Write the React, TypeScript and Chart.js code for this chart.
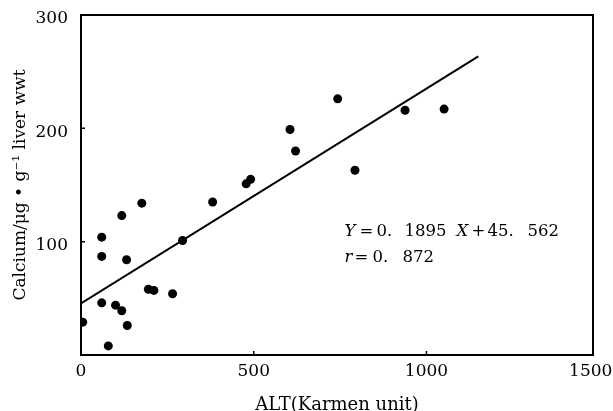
import React, { useEffect, useRef } from 'react';
import { Chart, registerables } from 'chart.js';

Chart.register(...registerables);

// ALT (Karmen unit) of each sample
const altValues = [5, 60, 60, 118, 176, 132, 60, 100, 118, 134, 79, 195, 211, 265, 294, 381, 478, 491, 605, 621, 743, 793, 938, 1051];
// Calcium (µg·g⁻¹ liver wwt) of each sample
const calciumValues = [29, 104, 87, 123, 134, 84, 46, 44, 39, 26, 8, 58, 57, 54, 101, 135, 151, 155, 199, 180, 226, 163, 216, 217];

const xTickValues = [0, 500, 1000, 1500];
const yTickValues = [100, 200, 300];
const xInnerTicks = [500, 1000];
const yInnerTicks = [100, 200];

// regression reported on the figure
const fitSlope = 0.1895;
const fitIntercept = 45.562;
const fitXRange = [0, 1150];

// annotation tokens: text, italic, horizontal offset (px) from the anchor
const equationTokens: [string, boolean, number][] = [
  ['Y', true, 0],
  ['=', false, 15],
  ['0.', false, 32],
  ['1895', false, 60],
  ['X', true, 112],
  ['+', false, 127],
  ['45.', false, 143],
  ['562', false, 183],
];
const rTokens: [string, boolean, number][] = [
  ['r', true, 0],
  ['=', false, 10],
  ['0.', false, 28],
  ['872', false, 58],
];
const annotationAnchor = { x: 763, yEq: 108.5, yR: 86 };

const FONT = '"DejaVu Serif", "Liberation Serif", serif';

export default function App() {
  const ref = useRef<HTMLCanvasElement>(null);

  useEffect(() => {
    document.body.style.margin = '0';
    const canvas = ref.current;
    if (!canvas) return;

    const framePlugin = {
      id: 'frame',
      afterDatasetsDraw(chart: any) {
        const { ctx, chartArea: a, scales } = chart;
        ctx.save();
        ctx.strokeStyle = '#000';
        ctx.lineWidth = 2;
        ctx.strokeRect(a.left, a.top, a.right - a.left, a.bottom - a.top);
        ctx.lineWidth = 1.5;
        ctx.beginPath();
        xInnerTicks.forEach((v) => {
          const px = scales.x.getPixelForValue(v);
          ctx.moveTo(px, a.bottom);
          ctx.lineTo(px, a.bottom - 4);
        });
        yInnerTicks.forEach((v) => {
          const py = scales.y.getPixelForValue(v);
          ctx.moveTo(a.left, py);
          ctx.lineTo(a.left + 4, py);
        });
        ctx.stroke();

        const drawTokens = (tokens: [string, boolean, number][], yv: number) => {
          const x0 = scales.x.getPixelForValue(annotationAnchor.x);
          const y = scales.y.getPixelForValue(yv);
          ctx.fillStyle = '#000';
          ctx.textBaseline = 'middle';
          ctx.textAlign = 'left';
          tokens.forEach(([t, italic, dx]) => {
            ctx.font = (italic ? 'italic ' : '') + '16.5px ' + FONT;
            ctx.fillText(t, x0 + dx, y);
          });
        };
        drawTokens(equationTokens, annotationAnchor.yEq);
        drawTokens(rTokens, annotationAnchor.yR);
        ctx.restore();
      },
    };

    const chart = new Chart(canvas, {
      type: 'scatter',
      data: {
        datasets: [
          {
            label: 'samples',
            data: altValues.map((x, i) => ({ x, y: calciumValues[i] })),
            backgroundColor: '#000',
            borderColor: '#000',
            borderWidth: 0,
            pointRadius: 4.5,
            pointHoverRadius: 4.5,
          },
          {
            label: 'fit',
            type: 'line',
            data: fitXRange.map((x) => ({ x, y: fitSlope * x + fitIntercept })),
            borderColor: '#000',
            borderWidth: 2,
            pointRadius: 0,
            fill: false,
            showLine: true,
          } as any,
        ],
      },
      options: {
        animation: false,
        responsive: false,
        layout: { padding: { left: 0, top: 15, right: 20, bottom: 0 } },
        plugins: { legend: { display: false }, tooltip: { enabled: false } },
        scales: {
          x: {
            type: 'linear',
            min: 0,
            max: 1482,
            afterBuildTicks: (s: any) => {
              s.ticks = xTickValues.map((v) => ({ value: v }));
            },
            afterFit: (s: any) => {
              s.height = 56;
              s.paddingLeft = 0;
              s.paddingRight = 0;
            },
            grid: { display: false, drawTicks: false },
            border: { display: false },
            ticks: {
              autoSkip: false,
              maxRotation: 0,
              padding: 6,
              color: '#000',
              font: { family: FONT, size: 17 },
              // the last label sits just inside the right edge, as in the source
              callback: (v: any) => (v === 1500 ? String(v) + '\u2003' : String(v)),
            },
            title: {
              display: true,
              text: 'ALT(Karmen unit)',
              color: '#000',
              font: { family: FONT, size: 18, lineHeight: 1 },
              padding: { top: 0, bottom: -3 },
            },
          },
          y: {
            type: 'linear',
            min: 0,
            max: 300,
            afterBuildTicks: (s: any) => {
              s.ticks = yTickValues.map((v) => ({ value: v }));
            },
            afterFit: (s: any) => {
              s.width = 81;
              s.paddingTop = 0;
              s.paddingBottom = 0;
            },
            grid: { display: false, drawTicks: false },
            border: { display: false },
            ticks: {
              autoSkip: false,
              padding: 13,
              labelOffset: 4,
              color: '#000',
              font: { family: FONT, size: 17 },
              callback: (v: any) => String(v),
            },
            title: {
              display: true,
              text: 'Calcium/μg • g⁻¹ liver wwt',
              color: '#000',
              font: { family: FONT, size: 17 },
              padding: { top: 10, bottom: 0 },
            },
          },
        },
      },
      plugins: [framePlugin],
    });

    return () => chart.destroy();
  }, []);

  return (
    <div style={{ width: 613, height: 411, background: '#fff' }}>
      <canvas ref={ref} width={613} height={411} style={{ display: 'block' }} />
    </div>
  );
}
